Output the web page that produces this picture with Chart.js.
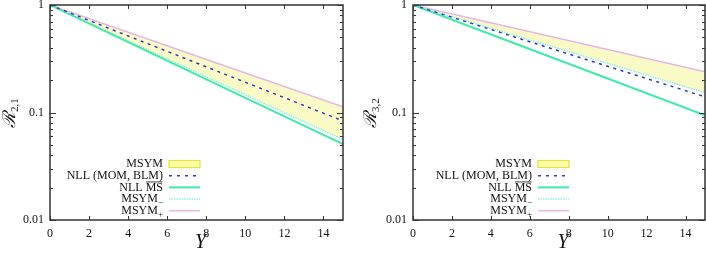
<!DOCTYPE html>
<html>
<head>
<meta charset="utf-8">
<script src="https://cdn.jsdelivr.net/npm/chart.js@4.4.1/dist/chart.umd.min.js"></script>
<style>
  html, body { margin: 0; padding: 0; background: #fff; }
  #wrap { display: flex; width: 706px; height: 259px; }
  canvas { display: block; }
</style>
</head>
<body>
<div id="wrap">
  <canvas id="g21" width="353" height="259"></canvas>
  <canvas id="g32" width="353" height="259"></canvas>
</div>
<script>
const rapidez = [0, 5, 10, 15];

// R_{2,1} panel
const r21_nllMom  = [1, 0.437, 0.191, 0.0835];
const r21_nllMs   = [1, 0.370, 0.137, 0.0507];
const r21_msymMin = [1, 0.383, 0.146, 0.056];
const r21_msymMax = [1, 0.483, 0.233, 0.113];

// R_{3,2} panel
const r32_nllMom  = [1, 0.519, 0.269, 0.140];
const r32_nllMs   = [1, 0.455, 0.207, 0.094];
const r32_msymMin = [1, 0.535, 0.287, 0.153];
const r32_msymMax = [1, 0.621, 0.385, 0.239];

// Ticks
const xTicks = [0, 2, 4, 6, 8, 10, 12, 14];
const yMajor = [0.01, 0.1, 1];

// Legend entries (text, subscript, overlined part)
const leyenda = [
  { txt: 'MSYM', sub: '', over: '' },
  { txt: 'NLL (MOM, BLM)', sub: '', over: '' },
  { txt: 'NLL ', sub: '', over: 'MS' },
  { txt: 'MSYM', sub: '\u2212', over: '' },
  { txt: 'MSYM', sub: '+', over: '' }
];

const COL = {
  band: '#fafac6',
  bandBox: '#fbfba8',
  bandEdge: '#e4e43c',
  blue: '#3434c4',
  green: '#40eaa8',
  cyan: '#8ceeee',
  pink: '#e6b6e6',
  axis: '#333333'
};

const SERIF = '"Liberation Serif", "DejaVu Serif", serif';
const FS = 12;

// ─────────────────────────────────────────────
// Frame, inward ticks, legend and titles
// ─────────────────────────────────────────────
function marcoPlugin(conf) {
  return {
    id: 'marco',
    afterDraw(chart) {
      const ctx = chart.ctx;
      const a = chart.chartArea;
      const xs = chart.scales.x;
      const ys = chart.scales.y;
      ctx.save();
      ctx.strokeStyle = COL.axis;
      ctx.lineWidth = 1.5;
      ctx.strokeRect(a.left, a.top, a.right - a.left, a.bottom - a.top);

      ctx.lineWidth = 1;
      ctx.beginPath();
      xTicks.forEach(v => {
        const px = Math.round(xs.getPixelForValue(v)) + 0.5;
        ctx.moveTo(px, a.bottom); ctx.lineTo(px, a.bottom - 4);
        ctx.moveTo(px, a.top); ctx.lineTo(px, a.top + 4);
      });
      for (let d = 0.01; d < 1; d *= 10) {
        for (let k = 1; k <= 10; k++) {
          const v = d * k;
          const py = Math.round(ys.getPixelForValue(v)) + 0.5;
          const len = (k === 1 || k === 10) ? 6 : 3;
          ctx.moveTo(a.left, py); ctx.lineTo(a.left + len, py);
          ctx.moveTo(a.right, py); ctx.lineTo(a.right - len, py);
        }
      }
      ctx.stroke();

      // Legend
      const filas = [164, 175.7, 187.4, 199, 210.7];
      const x0 = conf.legX, x1 = conf.legX + 31;
      const tx = conf.legX - 6;
      ctx.font = FS + 'px ' + SERIF;
      ctx.fillStyle = '#111';
      ctx.textBaseline = 'middle';
      leyenda.forEach((it, i) => {
        const y = filas[i];
        ctx.textAlign = 'right';
        let right = tx;
        if (it.sub) {
          ctx.font = '9px ' + SERIF;
          const ws = ctx.measureText(it.sub).width;
          ctx.fillText(it.sub, right, y + 4);
          right -= ws;
          ctx.font = FS + 'px ' + SERIF;
        }
        if (it.over) {
          const wo = ctx.measureText(it.over).width;
          ctx.fillText(it.over, right, y);
          ctx.beginPath();
          ctx.lineWidth = 0.8;
          ctx.strokeStyle = '#111';
          ctx.moveTo(right - wo + 0.5, y - 5.5); ctx.lineTo(right - 0.5, y - 5.5);
          ctx.stroke();
          right -= wo;
        }
        ctx.fillText(it.txt, right, y);
      });
      // samples
      ctx.fillStyle = COL.bandBox;
      ctx.fillRect(x0, filas[0] - 3.5, x1 - x0, 7);
      ctx.strokeStyle = COL.bandEdge;
      ctx.lineWidth = 1.2;
      ctx.strokeRect(x0, filas[0] - 3.5, x1 - x0, 7);
      const muestras = [
        null,
        { c: COL.blue, w: 1.5, d: [3, 5] },
        { c: COL.green, w: 2, d: [] },
        { c: COL.cyan, w: 1.5, d: [1.5, 1] },
        { c: COL.pink, w: 1.5, d: [] }
      ];
      muestras.forEach((m, i) => {
        if (!m) return;
        ctx.beginPath();
        ctx.strokeStyle = m.c;
        ctx.lineWidth = m.w;
        ctx.setLineDash(m.d);
        ctx.moveTo(x0, filas[i]); ctx.lineTo(x1, filas[i]);
        ctx.stroke();
      });
      ctx.setLineDash([]);

      // x title
      ctx.fillStyle = '#111';
      ctx.font = 'italic 20px ' + SERIF;
      ctx.textAlign = 'center';
      ctx.textBaseline = 'middle';
      ctx.fillText('Y', (a.left + a.right) / 2 + 4, 243);

      // y title
      ctx.translate(conf.yTitX, 113);
      ctx.rotate(-Math.PI / 2);
      ctx.font = 'italic 18px ' + SERIF;
      const wR = ctx.measureText('\u211B').width;
      ctx.font = '11px ' + SERIF;
      const wS = ctx.measureText(conf.sub).width;
      const start = -(wR + wS) / 2;
      ctx.textAlign = 'left';
      ctx.font = 'italic 18px ' + SERIF;
      ctx.fillText('\u211B', start, 0);
      ctx.font = '11px ' + SERIF;
      ctx.fillText(conf.sub, start + wR, 5);
      ctx.restore();
    }
  };
}

function crearPanel(id, series, conf) {
  const ctx = document.getElementById(id).getContext('2d');
  const pts = arr => rapidez.map((x, i) => ({ x: x, y: arr[i] }));
  return new Chart(ctx, {
    type: 'line',
    data: {
      datasets: [
        { label: 'NLL (MOM, BLM)', data: pts(series.mom), borderColor: COL.blue,
          borderWidth: 1.5, borderDash: [3, 4.5], pointRadius: 0, fill: false },
        { label: 'NLL MS', data: pts(series.ms), borderColor: COL.green,
          borderWidth: 2, pointRadius: 0, fill: false },
        { label: 'MSYM-', data: pts(series.min), borderColor: COL.cyan,
          borderWidth: 1.5, borderDash: [1.5, 1], pointRadius: 0, fill: false },
        { label: 'MSYM+', data: pts(series.max), borderColor: COL.pink,
          borderWidth: 1.5, pointRadius: 0, fill: '-1', backgroundColor: COL.band }
      ]
    },
    options: {
      responsive: false,
      animation: false,
      layout: { padding: { top: 5, right: conf.padR, left: 0, bottom: 0 } },
      plugins: {
        legend: { display: false },
        tooltip: { enabled: false },
        filler: { drawTime: 'beforeDatasetsDraw' }
      },
      scales: {
        x: {
          type: 'linear', min: 0, max: 15,
          afterBuildTicks: s => { s.ticks = xTicks.map(v => ({ value: v })); },
          afterFit: s => { s.height = 39; s.paddingLeft = 0; s.paddingRight = 0; },
          grid: { display: false, drawTicks: false },
          border: { display: false },
          ticks: { padding: 7, color: '#111', font: { family: SERIF, size: FS }, maxRotation: 0 }
        },
        y: {
          type: 'logarithmic', min: 0.01, max: 1,
          afterBuildTicks: s => { s.ticks = yMajor.map(v => ({ value: v })); },
          afterFit: s => { s.width = conf.yW; s.paddingTop = 0; s.paddingBottom = 0; },
          grid: { display: false, drawTicks: false },
          border: { display: false },
          ticks: { padding: 6, color: '#111',
                   font: { family: SERIF, size: FS },
                   callback: v => String(v) }
        }
      }
    },
    plugins: [marcoPlugin(conf)]
  });
}

crearPanel('g21',
  { mom: r21_nllMom, ms: r21_nllMs, min: r21_msymMin, max: r21_msymMax },
  { padR: 10, yW: 50, legX: 169, yTitX: 10, sub: '2,1' });

crearPanel('g32',
  { mom: r32_nllMom, ms: r32_nllMs, min: r32_msymMin, max: r32_msymMax },
  { padR: 1, yW: 60, legX: 185, yTitX: 18, sub: '3,2' });
</script>
</body>
</html>
